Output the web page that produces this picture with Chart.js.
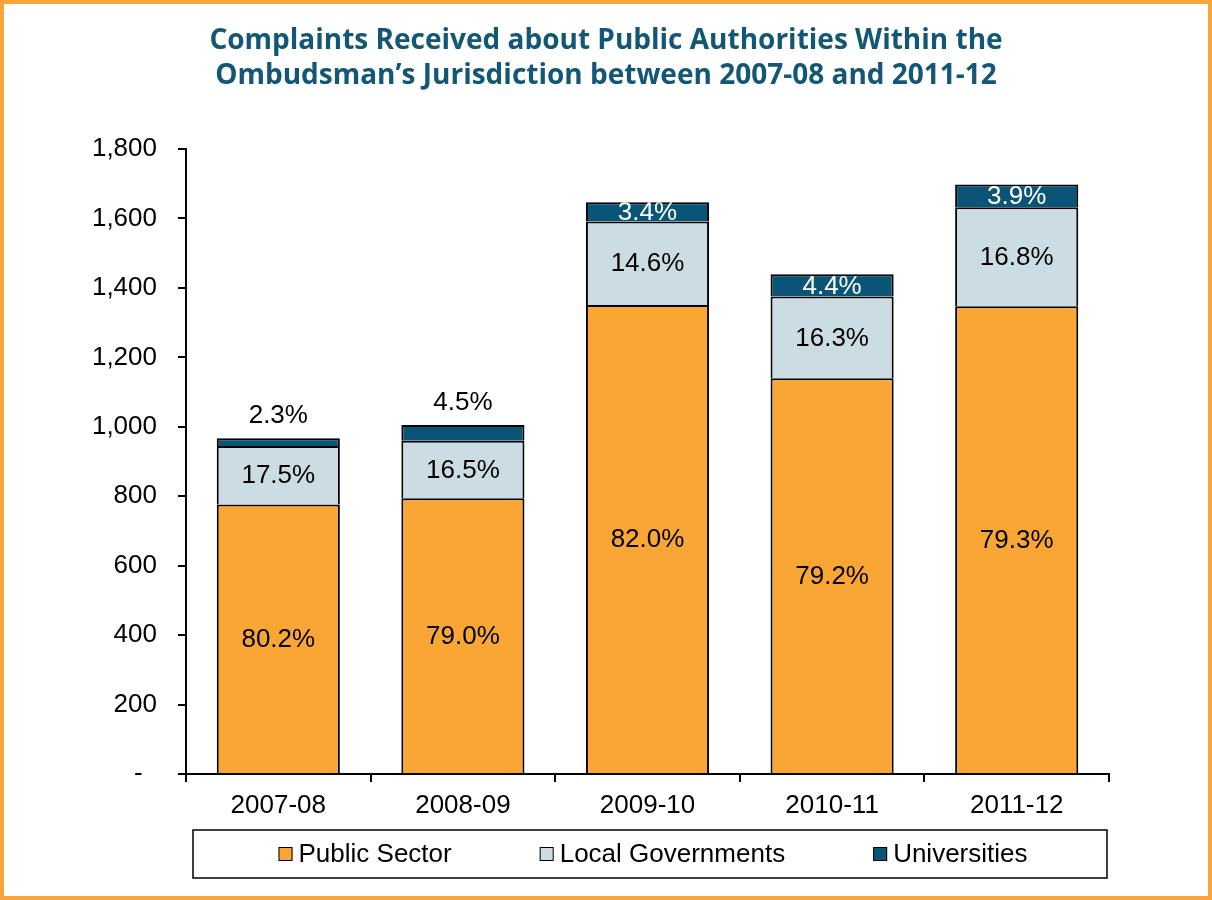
<!DOCTYPE html>
<html><head><meta charset="utf-8">
<script src="https://cdn.jsdelivr.net/npm/chart.js@4.4.1/dist/chart.umd.min.js"></script>
<style>html,body{margin:0;padding:0;background:#fff;} canvas{display:block;}</style>
</head><body>
<canvas id="c" width="1212" height="900"></canvas>
<script>
const categories = ['2007-08', '2008-09', '2009-10', '2010-11', '2011-12'];
const publicSector = [776, 794, 1351, 1140, 1347];
const localGovernments = [169, 166, 240, 235, 285];
const universities = [22, 45, 56, 64, 66];
const seriesNames = ['Public Sector', 'Local Governments', 'Universities'];
const titleLines = ['Complaints Received about Public Authorities Within the', 'Ombudsman\u2019s Jurisdiction between 2007-08 and 2011-12'];

const FONT = '"Liberation Sans", Arial, sans-serif';

const frame = {
  id: 'frame',
  beforeDraw(chart) {
    const ctx = chart.ctx;
    ctx.save(); ctx.fillStyle = '#fff'; ctx.fillRect(0, 0, chart.width, chart.height); ctx.restore();
  },
  afterDraw(chart) {
    const ctx = chart.ctx;
    ctx.save();
    // title, centred on the whole picture
    ctx.fillStyle = '#125775';
    ctx.font = 'bold 28px "Open Sans", sans-serif';
    ctx.textAlign = 'center'; ctx.textBaseline = 'middle';
    titleLines.forEach((t, i) => ctx.fillText(t, chart.width / 2, 41 + i * 35));
    // orange frame
    ctx.strokeStyle = '#F8A63A'; ctx.lineWidth = 4;
    ctx.strokeRect(2, 2, chart.width - 4, chart.height - 4);
    ctx.restore();
  }
};

const pctLabels = {
  id: 'pctLabels',
  afterDatasetsDraw(chart) {
    const ctx = chart.ctx;
    const dss = chart.data.datasets;
    const n = chart.data.labels.length;
    const totals = [];
    for (let i = 0; i < n; i++) totals[i] = dss.reduce((s, d) => s + d.data[i], 0);
    ctx.save();
    ctx.font = '26px ' + FONT;
    ctx.textAlign = 'center'; ctx.textBaseline = 'middle';
    dss.forEach((ds, di) => {
      const meta = chart.getDatasetMeta(di);
      meta.data.forEach((el, i) => {
        const p = el.getProps(['x', 'y', 'base', 'width'], true);
        const txt = (ds.data[i] / totals[i] * 100).toFixed(1) + '%';
        const h = p.base - p.y;
        if (di === dss.length - 1 && h < 17) {
          ctx.fillStyle = '#000';
          ctx.fillText(txt, p.x, p.y - 22);
        } else {
          ctx.save();
          ctx.beginPath(); ctx.rect(p.x - p.width / 2, p.y, p.width, h); ctx.clip();
          ctx.fillStyle = ds.labelColor;
          ctx.fillText(txt, p.x, (p.y + p.base) / 2 + 1);
          ctx.restore();
        }
      });
    });
    ctx.restore();
  }
};

const boxLegend = {
  id: 'boxLegend',
  afterDraw(chart) {
    const ctx = chart.ctx, ca = chart.chartArea;
    const left = ca.left + 7, right = ca.right - 2, top = ca.bottom + 56, bottom = ca.bottom + 104;
    ctx.save();
    ctx.strokeStyle = '#000'; ctx.lineWidth = 1.5;
    ctx.strokeRect(left, top, right - left, bottom - top);
    ctx.font = '26px ' + FONT;
    const items = chart.data.datasets.map(d => ({ label: d.label, color: d.backgroundColor, w: 14 + 6 + ctx.measureText(d.label).width }));
    const gap = 88;
    const total = items.reduce((s, it) => s + it.w, 0) + gap * (items.length - 1);
    let x = (left + right) / 2 - total / 2 + 3;
    const cy = (top + bottom) / 2;
    items.forEach(it => {
      ctx.fillStyle = it.color; ctx.fillRect(x, cy - 7, 14, 14);
      ctx.strokeStyle = '#000'; ctx.lineWidth = 1; ctx.strokeRect(x + 0.5, cy - 6.5, 13, 13);
      ctx.fillStyle = '#000'; ctx.textAlign = 'left'; ctx.textBaseline = 'middle';
      ctx.fillText(it.label, x + 20, cy + 1);
      x += it.w + gap;
    });
    ctx.restore();
  }
};

new Chart(document.getElementById('c'), {
  type: 'bar',
  data: {
    labels: categories,
    datasets: [
      { label: seriesNames[0], data: publicSector, backgroundColor: '#F9A635', labelColor: '#000' },
      { label: seriesNames[1], data: localGovernments, backgroundColor: '#CCDCE3', labelColor: '#000' },
      { label: seriesNames[2], data: universities, backgroundColor: '#0A5577', labelColor: '#fff' }
    ].map(d => Object.assign(d, { borderColor: '#000', borderWidth: 2, categoryPercentage: 1, barPercentage: 0.667 }))
  },
  options: {
    responsive: false,
    animation: false,
    devicePixelRatio: 1,
    layout: { padding: { left: 0, right: 103, top: 149, bottom: 0 } },
    plugins: {
      legend: { display: false },
      tooltip: { enabled: false },
      title: { display: false }
    },
    scales: {
      x: {
        stacked: true,
        afterFit(s) { s.height = 126; },
        grid: { offset: true, drawOnChartArea: false, drawTicks: true, tickLength: 8, color: '#000', lineWidth: 2 },
        border: { display: true, color: '#000', width: 2 },
        ticks: { color: '#000', font: { family: FONT, size: 26 }, padding: 8 }
      },
      y: {
        stacked: true,
        min: 0, max: 1800,
        afterFit(s) { s.width = 186; },
        grid: { drawOnChartArea: false, drawTicks: true, tickLength: 8, color: '#000', lineWidth: 2 },
        border: { display: true, color: '#000', width: 2 },
        ticks: {
          stepSize: 200, color: '#000', font: { family: FONT, size: 26 }, padding: 21,
          callback: v => v === 0 ? '-  ' : v.toLocaleString('en-US')
        }
      }
    }
  },
  plugins: [frame, pctLabels, boxLegend]
});
</script>
</body></html>
